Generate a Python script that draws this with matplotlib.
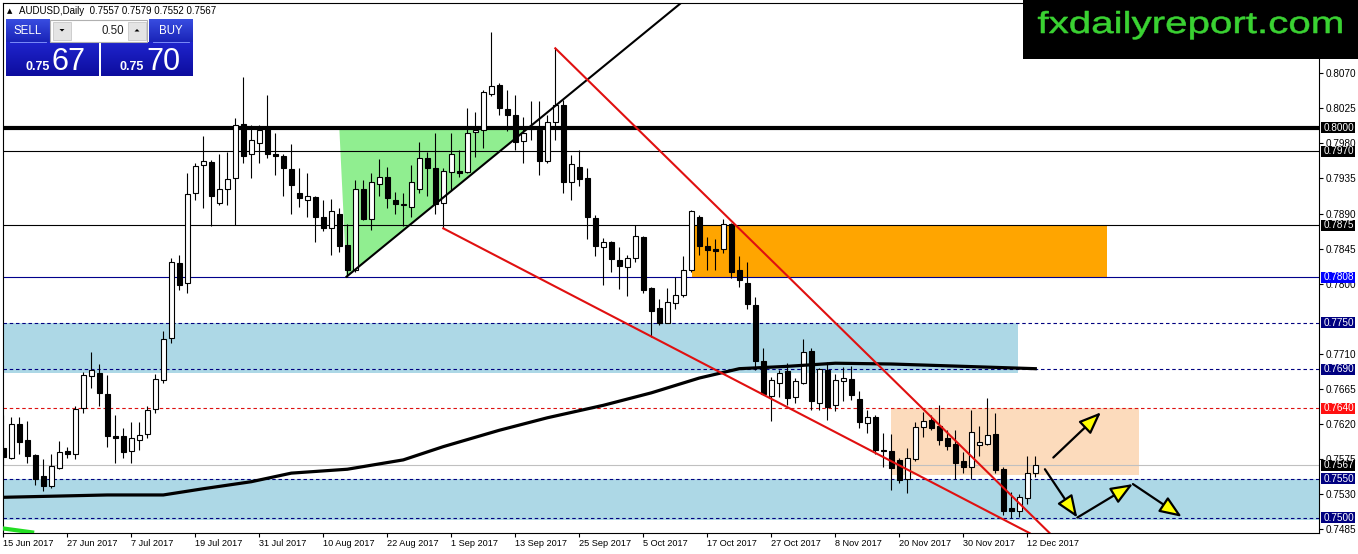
import numpy as np
import matplotlib
matplotlib.use("Agg")
import matplotlib.pyplot as plt
from matplotlib.patches import Rectangle, Polygon, PathPatch
from matplotlib.textpath import TextPath
from matplotlib.font_manager import FontProperties
from matplotlib.transforms import Affine2D, blended_transform_factory

plt.rcParams['font.family'] = ['Liberation Sans', 'DejaVu Sans']
plt.rcParams['lines.scale_dashes'] = False

SYMBOL = "AUDUSD,Daily"
LAST_OHLC = [0.7557, 0.7579, 0.7552, 0.7567]
SELL_PRICE = ("0.75", "67")
BUY_PRICE = ("0.75", "70")
LOT = "0.50"

# daily candles, 15 Jun 2017 .. 13 Dec 2017
OPEN = [0.7589, 0.7577, 0.7620, 0.7600, 0.7580, 0.7553, 0.7541, 0.7563, 0.7585, 0.7582,
        0.7640, 0.7682, 0.7686, 0.7659, 0.7605, 0.7604, 0.7586, 0.7600, 0.7607, 0.7639,
        0.7676, 0.7730, 0.7826, 0.7801, 0.7916, 0.7952, 0.7956, 0.7903, 0.7921, 0.7935,
        0.8005, 0.7966, 0.7980, 0.8001, 0.7966, 0.7964, 0.7947, 0.7917, 0.7908, 0.7911,
        0.7885, 0.7871, 0.7890, 0.7850, 0.7818, 0.7921, 0.7883, 0.7928, 0.7937, 0.7908,
        0.7901, 0.7899, 0.7921, 0.7961, 0.7948, 0.7904, 0.7943, 0.7945, 0.7943, 0.7994,
        0.7997, 0.8044, 0.8055, 0.8024, 0.8017, 0.7983, 0.8002, 0.7997, 0.7957, 0.8008,
        0.8029, 0.7930, 0.7950, 0.7935, 0.7884, 0.7847, 0.7853, 0.7830, 0.7822, 0.7833,
        0.7860, 0.7795, 0.7769, 0.7750, 0.7775, 0.7785, 0.7818, 0.7885, 0.7848, 0.7845,
        0.7844, 0.7876, 0.7818, 0.7801, 0.7773, 0.7701, 0.7656, 0.7672, 0.7688, 0.7655,
        0.7673, 0.7714, 0.7647, 0.7689, 0.7644, 0.7675, 0.7678, 0.7652, 0.7621, 0.7629,
        0.7587, 0.7586, 0.7574, 0.7549, 0.7575, 0.7616, 0.7625, 0.7617, 0.7602, 0.7594,
        0.7572, 0.7565, 0.7593, 0.7595, 0.7607, 0.7562, 0.7512, 0.7508, 0.7525, 0.7557]
HIGH = [0.7632, 0.7629, 0.7629, 0.7624, 0.7582, 0.7575, 0.7582, 0.7598, 0.7591, 0.7643,
        0.7687, 0.7713, 0.7697, 0.7683, 0.7632, 0.7615, 0.7622, 0.7622, 0.7643, 0.7684,
        0.7739, 0.7833, 0.7837, 0.7942, 0.7955, 0.7989, 0.7959, 0.7966, 0.7969, 0.8012,
        0.8065, 0.8004, 0.8004, 0.8042, 0.7993, 0.7966, 0.7979, 0.7948, 0.7942, 0.7913,
        0.7907, 0.7909, 0.7897, 0.7877, 0.7933, 0.7933, 0.7942, 0.7960, 0.7950, 0.7918,
        0.7916, 0.7952, 0.7982, 0.7969, 0.7993, 0.7948, 0.7993, 0.7972, 0.8026, 0.8020,
        0.8049, 0.8123, 0.8058, 0.8048, 0.8042, 0.8014, 0.8035, 0.8034, 0.8016, 0.8102,
        0.8036, 0.7965, 0.7972, 0.7948, 0.7888, 0.7859, 0.7855, 0.7847, 0.7837, 0.7875,
        0.7861, 0.7796, 0.7781, 0.7795, 0.7808, 0.7836, 0.7895, 0.7888, 0.7860, 0.7857,
        0.7883, 0.7878, 0.7835, 0.7828, 0.7783, 0.7718, 0.7680, 0.7689, 0.7698, 0.7679,
        0.7729, 0.7718, 0.7692, 0.7700, 0.7684, 0.7693, 0.7694, 0.7662, 0.7638, 0.7632,
        0.7608, 0.7607, 0.7577, 0.7589, 0.7623, 0.7636, 0.7632, 0.7644, 0.7612, 0.7612,
        0.7584, 0.7638, 0.7617, 0.7653, 0.7634, 0.7565, 0.7533, 0.7530, 0.7579, 0.7579]
LOW = [0.7567, 0.7575, 0.7582, 0.7570, 0.7542, 0.7534, 0.7538, 0.7562, 0.7576, 0.7575,
       0.7634, 0.7666, 0.7643, 0.7590, 0.7570, 0.7576, 0.7570, 0.7587, 0.7602, 0.7634,
       0.7673, 0.7724, 0.7792, 0.7788, 0.7907, 0.7897, 0.7874, 0.7901, 0.7901, 0.7875,
       0.7955, 0.7935, 0.7955, 0.7961, 0.7940, 0.7912, 0.7890, 0.7899, 0.7886, 0.7854,
       0.7867, 0.7837, 0.7841, 0.7809, 0.7815, 0.7882, 0.7869, 0.7912, 0.7897, 0.7890,
       0.7874, 0.7886, 0.7916, 0.7912, 0.7890, 0.7871, 0.7920, 0.7937, 0.7942, 0.7962,
       0.7974, 0.8041, 0.8016, 0.7996, 0.7972, 0.7955, 0.7984, 0.7940, 0.7955, 0.7984,
       0.7916, 0.7907, 0.7925, 0.7858, 0.7835, 0.7798, 0.7815, 0.7793, 0.7784, 0.7828,
       0.7788, 0.7732, 0.7747, 0.7749, 0.7768, 0.7783, 0.7815, 0.7837, 0.7818, 0.7817,
       0.7840, 0.7807, 0.7796, 0.7768, 0.7689, 0.7657, 0.7624, 0.7655, 0.7644, 0.7647,
       0.7671, 0.7638, 0.7638, 0.7625, 0.7637, 0.7649, 0.7651, 0.7615, 0.7608, 0.7582,
       0.7565, 0.7535, 0.7544, 0.7531, 0.7572, 0.7603, 0.7612, 0.7593, 0.7587, 0.7550,
       0.7557, 0.7550, 0.7579, 0.7593, 0.7557, 0.7503, 0.7500, 0.7501, 0.7517, 0.7552]
CLOSE = [0.7578, 0.7620, 0.7597, 0.7579, 0.7550, 0.7540, 0.7566, 0.7584, 0.7581, 0.7639,
         0.7683, 0.7689, 0.7660, 0.7605, 0.7602, 0.7584, 0.7602, 0.7606, 0.7638, 0.7678,
         0.7729, 0.7828, 0.7798, 0.7915, 0.7951, 0.7957, 0.7913, 0.7922, 0.7934, 0.8004,
         0.7964, 0.7984, 0.7997, 0.7966, 0.7964, 0.7948, 0.7926, 0.7910, 0.7912, 0.7886,
         0.7872, 0.7893, 0.7849, 0.7818, 0.7922, 0.7883, 0.7930, 0.7937, 0.7910, 0.7902,
         0.7902, 0.7931, 0.7961, 0.7948, 0.7902, 0.7944, 0.7966, 0.7942, 0.7993, 0.7997,
         0.8046, 0.8054, 0.8025, 0.8016, 0.7982, 0.7993, 0.7999, 0.7958, 0.8007, 0.8029,
         0.7930, 0.7954, 0.7934, 0.7885, 0.7848, 0.7854, 0.7832, 0.7823, 0.7833, 0.7861,
         0.7792, 0.7765, 0.7750, 0.7776, 0.7786, 0.7818, 0.7893, 0.7848, 0.7843, 0.7842,
         0.7876, 0.7815, 0.7805, 0.7774, 0.7701, 0.7659, 0.7677, 0.7686, 0.7654, 0.7675,
         0.7712, 0.7650, 0.7690, 0.7642, 0.7677, 0.7679, 0.7657, 0.7622, 0.7629, 0.7587,
         0.7586, 0.7563, 0.7548, 0.7576, 0.7616, 0.7624, 0.7615, 0.7600, 0.7592, 0.7570,
         0.7565, 0.7610, 0.7597, 0.7606, 0.7561, 0.7509, 0.7508, 0.7526, 0.7557, 0.7567]

DATE_TICKS = [0, 8, 16, 24, 32, 40, 48, 56, 64, 72, 80, 88, 96, 104, 112, 120, 128]
DATE_LABELS = ['15 Jun 2017', '27 Jun 2017', '7 Jul 2017', '19 Jul 2017', '31 Jul 2017',
               '10 Aug 2017', '22 Aug 2017', '1 Sep 2017', '13 Sep 2017', '25 Sep 2017',
               '5 Oct 2017', '17 Oct 2017', '27 Oct 2017', '8 Nov 2017', '20 Nov 2017',
               '30 Nov 2017', '12 Dec 2017']
PRICE_TICKS = [0.8070, 0.8025, 0.7980, 0.7935, 0.7890, 0.7845, 0.7800,
               0.7710, 0.7665, 0.7620, 0.7575, 0.7530, 0.7485]

# slow moving average, read at a few bars
MA_BARS = [0, 13, 20, 25, 31, 36, 43, 50, 55, 62, 68, 75, 81, 87, 92, 98, 104, 111, 120, 129]
MA_VALUES = [0.7526, 0.7529, 0.7529, 0.7537, 0.7546, 0.7557, 0.7562, 0.7574, 0.7591, 0.7612,
             0.7628, 0.7644, 0.7660, 0.7679, 0.7691, 0.7694, 0.7698, 0.7697, 0.7694, 0.7691]

# horizontal levels
LEVELS = [0.8000, 0.7970, 0.7875, 0.7808, 0.7750, 0.7690, 0.7640, 0.7567, 0.7550, 0.7500]
LEVEL_COLORS = ['black', 'black', 'black', '#00008b', '#000080', '#000080',
                '#dd1111', '#c0c0c0', '#000080', '#000080']
LEVEL_STYLES = ['-', '-', '-', '-', '--', '--', '--', '-', '--', '--']
LEVEL_WIDTHS = [3.0, 0.8, 0.8, 0.8, 0.8, 0.8, 0.8, 0.8, 0.8, 0.8]
LEVEL_BOXES = ['black', 'black', 'black', '#0000ff', '#000080', '#000080',
               '#ff1010', 'black', '#000080', '#000080']

# zones: bar from, bar to, low, high
BLUE_ZONES = [(-2, 126.8, 0.7686, 0.7750), (-2, 170, 0.7497, 0.7550)]
ORANGE_ZONE = (86.05, 137.96, 0.7808, 0.7875)
PEACH_ZONE = (110.97, 141.96, 0.7555, 0.7640)
GREEN_TRI_X = [42.0, 42.9, 65.6]
GREEN_TRI_Y = [0.8000, 0.7809, 0.8000]

TREND_X = [42.9, 84.7]
TREND_Y = [0.7809, 0.8160]
RED_UPPER_X = [69, 130.8]
RED_UPPER_Y = [0.8102, 0.7480]
RED_LOWER_X = [55, 128.3]
RED_LOWER_Y = [0.7871, 0.7480]

ARROW_UP_X = [131.25, 137.2]
ARROW_UP_Y = [0.7577, 0.7635]
ARROW_PATH_X = [130.2, 134.25, 141.2, 147.3]
ARROW_PATH_Y = [0.7562, 0.7500, 0.7543, 0.7501]

GREEN_IND_X = [0, 3.6]
GREEN_IND_Y = [0.7486, 0.7481]

W, H = 1358, 554
fig = plt.figure(figsize=(W / 100, H / 100), dpi=100)
fig.patch.set_facecolor('white')
ax = fig.add_axes([2.7 / W, 21 / H, 1316.3 / W, 530.3 / H])
ax.set_xlim(-0.075, 164.46)
ax.set_ylim(0.74802, 0.81605)

# zones
for x0, x1, y0, y1 in BLUE_ZONES:
    ax.add_patch(Rectangle((x0, y0), x1 - x0, y1 - y0, fc='#add8e6', ec='none', zorder=1))
x0, x1, y0, y1 = ORANGE_ZONE
ax.add_patch(Rectangle((x0, y0), x1 - x0, y1 - y0, fc='#ffa500', ec='none', zorder=1))
x0, x1, y0, y1 = PEACH_ZONE
ax.add_patch(Rectangle((x0, y0), x1 - x0, y1 - y0, fc='#fcdbbc', ec='none', zorder=1))
ax.add_patch(Polygon(np.column_stack([GREEN_TRI_X, GREEN_TRI_Y]), closed=True,
                     fc='#90ee90', ec='none', zorder=1))

# levels
for lev, col, ls, lw in zip(LEVELS, LEVEL_COLORS, LEVEL_STYLES, LEVEL_WIDTHS):
    line = ax.axhline(lev, color=col, ls=ls, lw=lw, zorder=2)
    if ls == '--':
        line.set_dashes((2.5, 2.0))

# candles
o = np.array(OPEN)
h = np.array(HIGH)
l = np.array(LOW)
c = np.array(CLOSE)
x = np.arange(len(o))
up = c >= o
body = np.maximum(np.abs(c - o), 0.00008)
ax.vlines(x, l, h, color='black', lw=0.8, zorder=3)
ax.bar(x[up], body[up], bottom=o[up], width=0.66, color='white',
       edgecolor='black', linewidth=0.8, zorder=4)
ax.bar(x[~up], body[~up], bottom=c[~up], width=0.66, color='black',
       edgecolor='black', linewidth=0.8, zorder=4)

# moving average and drawn lines
ax.plot(MA_BARS, MA_VALUES, color='black', lw=2.3, zorder=5, solid_joinstyle='round')
ax.plot(GREEN_IND_X, GREEN_IND_Y, color='#22dd22', lw=3, zorder=5)
ax.plot(TREND_X, TREND_Y, color='black', lw=1.5, zorder=6)
ax.plot(RED_UPPER_X, RED_UPPER_Y, color='#e01010', lw=1.5, zorder=6)
ax.plot(RED_LOWER_X, RED_LOWER_Y, color='#e01010', lw=1.5, zorder=6)

arrow_kw = dict(arrowstyle='-|>,head_length=0.75,head_width=0.3', mutation_scale=18,
                lw=1.6, ec='black', fc='yellow', shrinkA=0, shrinkB=0)
ax.annotate('', xy=(ARROW_UP_X[1], ARROW_UP_Y[1]), xytext=(ARROW_UP_X[0], ARROW_UP_Y[0]),
            arrowprops=arrow_kw, zorder=7)
for i in range(len(ARROW_PATH_X) - 1):
    ax.annotate('', xy=(ARROW_PATH_X[i + 1], ARROW_PATH_Y[i + 1]),
                xytext=(ARROW_PATH_X[i], ARROW_PATH_Y[i]), arrowprops=arrow_kw, zorder=7)

# axes look
for sp in ax.spines.values():
    sp.set_color('black')
    sp.set_linewidth(0.8)
ax.set_xticks(DATE_TICKS)
ax.set_xticklabels(DATE_LABELS)
for lbl in ax.get_xticklabels():
    lbl.set_horizontalalignment('left')
ax.tick_params(axis='x', direction='out', length=3, width=0.8, pad=1.5, labelsize=6.6)
ax.yaxis.tick_right()
ax.set_yticks(PRICE_TICKS)
ax.set_yticklabels([f'{v:.4f}' for v in PRICE_TICKS])
ax.tick_params(axis='y', direction='out', length=3, width=0.8, pad=1.5, labelsize=7.2)

# price labels on the right axis
bt = blended_transform_factory(ax.transAxes, ax.transData)
axw = 1316.3
for lev, bc in zip(LEVELS, LEVEL_BOXES):
    ax.add_patch(Rectangle((1.0 + 1.5 / axw, lev - 0.00071), 34.5 / axw, 0.00142, transform=bt,
                           fc=bc, ec='none', clip_on=False, zorder=8))
    ax.text(1.0 + 5 / axw, lev, f'{lev:.4f}', transform=bt, ha='left', va='center',
            fontsize=7.2, color='white', clip_on=False, zorder=9)

# overlay in pixel coordinates for the panel and watermark
ov = fig.add_axes([0, 0, 1, 1], zorder=10)
ov.patch.set_alpha(0)
ov.axis('off')


def grad_box(x0, y0, x1, y1, top, bot):
    t = np.linspace(0, 1, 40)[:, None, None]
    img = np.array(top)[None, None, :] * (1 - t) + np.array(bot)[None, None, :] * t
    ov.imshow(img, extent=(x0, x1, y1, y0), origin='upper', aspect='auto',
              interpolation='bilinear', zorder=1)


light = (0.22, 0.30, 0.88)
dark = (0.05, 0.05, 0.62)
grad_box(6, 20, 49.7, 42.3, light, (0.10, 0.14, 0.72))
grad_box(149.3, 20, 192.7, 42.3, light, (0.10, 0.14, 0.72))
grad_box(6, 42.3, 98.7, 76, (0.12, 0.14, 0.80), dark)
grad_box(101, 42.3, 192.7, 76, (0.12, 0.14, 0.80), dark)
ov.add_patch(Rectangle((50, 20), 96.7, 22, fc='white', ec='#b0b0b0', lw=0.8, zorder=2))
ov.add_patch(Rectangle((53.3, 21.5), 17.4, 18.5, fc='#e4e4e4', ec='#c8c8c8', lw=0.6, zorder=3))
ov.add_patch(Rectangle((128.3, 21.5), 17.4, 18.5, fc='#e4e4e4', ec='#c8c8c8', lw=0.6, zorder=3))
ov.add_patch(Polygon([[59.5, 29], [64.5, 29], [62, 31.5]], closed=True, fc='black', zorder=4))
ov.add_patch(Polygon([[134.5, 31.5], [139.5, 31.5], [137, 29]], closed=True, fc='black', zorder=4))
ov.plot([10, 45.7], [41.7, 41.7], color='#8a9cff', lw=0.6, zorder=4)
ov.plot([153, 189], [41.7, 41.7], color='#8a9cff', lw=0.6, zorder=4)
ov.text(27.8, 31.5, 'SELL', color='white', fontsize=8.3, ha='center', va='center', zorder=5)
ov.text(171, 31.5, 'BUY', color='white', fontsize=8.3, ha='center', va='center', zorder=5)
ov.text(124, 30.5, LOT, color='#202020', fontsize=8.3, ha='right', va='center', zorder=5)
ov.text(25, 69.5, SELL_PRICE[0], color='white', fontsize=9, fontweight='bold',
        ha='left', va='baseline', zorder=5)
ov.text(51.5, 70, SELL_PRICE[1], color='white', fontsize=22, ha='left', va='baseline', zorder=5)
ov.text(119, 69.5, BUY_PRICE[0], color='white', fontsize=9, fontweight='bold',
        ha='left', va='baseline', zorder=5)
ov.text(146.5, 70, BUY_PRICE[1], color='white', fontsize=22, ha='left', va='baseline', zorder=5)

ov.text(9.5, 11, '\u25b2', fontsize=5, ha='center', va='center', color='black',
        family='DejaVu Sans', zorder=5)
ov.text(19, 11, SYMBOL + '  ' + ' '.join(f'{v:.4f}' for v in LAST_OHLC), fontsize=7,
        ha='left', va='center', color='black', zorder=5)

# watermark
ov.add_patch(Rectangle((1022.7, 0), W - 1022.7, 58.7, fc='black', ec='none', zorder=2))
tp = TextPath((0, 0), 'fxdailyreport.com', size=100, prop=FontProperties(family='Liberation Sans'))
bb = tp.get_extents()
sx = 303.7 / bb.width
sy = 28.3 / bb.height
tr = Affine2D().translate(-bb.x0, -bb.y1).scale(sx, -sy).translate(1038, 11) + ov.transData
ov.add_patch(PathPatch(tp, fc='#3ad232', ec='#3ad232', lw=0.4, transform=tr, zorder=3))

ov.set_xlim(0, W)
ov.set_ylim(H, 0)

fig.savefig('out.png', dpi=100)
